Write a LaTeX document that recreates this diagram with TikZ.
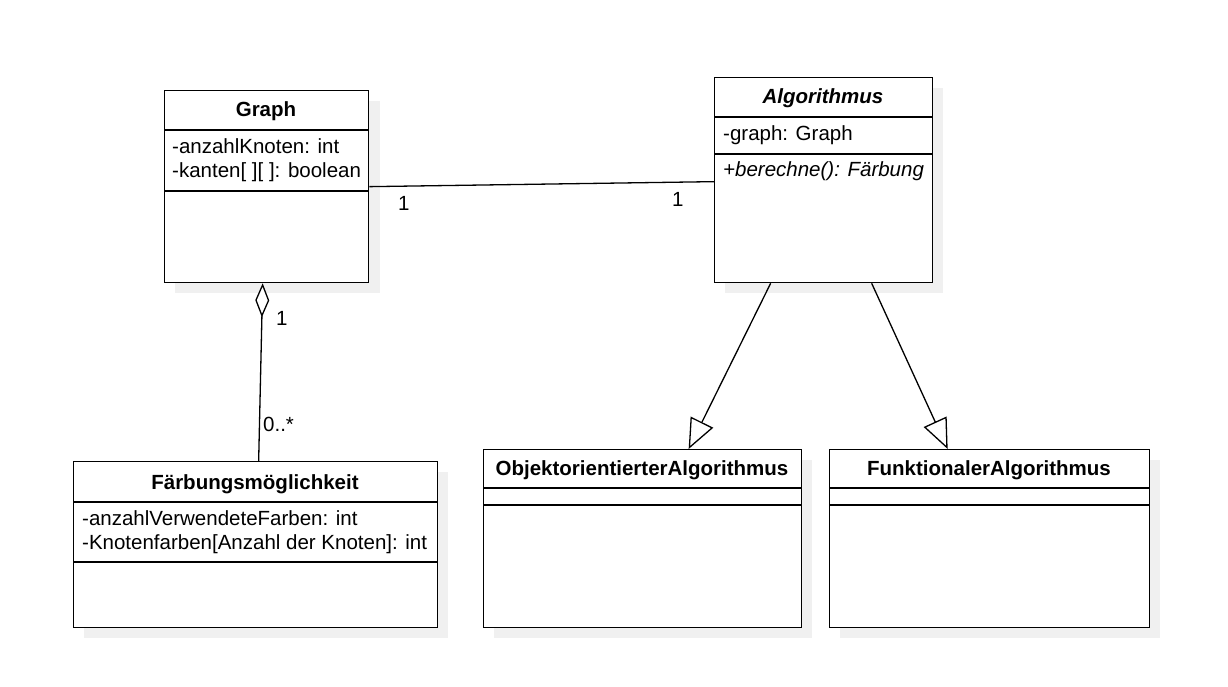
\documentclass[tikz,border=0pt]{standalone}
\usepackage{fontspec}
\setmainfont{Liberation Sans}
\usetikzlibrary{arrows.meta,calc}
\begin{document}
\begin{tikzpicture}[x=1pt,y=-1pt,
  box/.style={draw=black,line width=1.3pt,fill=white,inner sep=0pt,anchor=north west},
  shadowbox/.style={fill=black!6,draw=none},
  sep/.style={draw=black,line width=1.3pt},
  txt/.style={inner sep=0pt,anchor=base west,font=\fontsize{20.5}{24}\selectfont},
  ttl/.style={inner sep=0pt,anchor=base,font=\fontsize{20.5}{24}\selectfont\bfseries},
  conn/.style={draw=black,line width=1.3pt},
  gen/.style={conn,-{Triangle[open,length=30pt,width=25pt,fill=white]}},
  agg/.style={conn,{Diamond[open,length=34pt,width=14pt,fill=white]}-}
]
\useasboundingbox (0,0) rectangle (1228,687);
\fill[white] (0,0) rectangle (1228,687);

% shadows
\fill[black!6] (175,101) rectangle (380,293);
\fill[black!6] (725,88) rectangle (943,293);
\fill[black!6] (84,472) rectangle (448,638);
\fill[black!6] (494,460) rectangle (812,638);
\fill[black!6] (840,460) rectangle (1160,638);

% Graph
\node[box,minimum width=204pt,minimum height=192pt] (graph) at (164,90) {};
\draw[sep] (164,130) -- (368,130);
\draw[sep] (164,191) -- (368,191);
\node[ttl] (graphT) at (266,117) {Graph};
\node[txt] (graphA1) at (172,154) {-anzahlKnoten: int};
\node[txt] (graphA2) at (172,178) {-kanten[ ][ ]: boolean};

% Algorithmus
\node[box,minimum width=218pt,minimum height=205pt] (algo) at (714,77) {};
\draw[sep] (714,117) -- (932,117);
\draw[sep] (714,154) -- (932,154);
\node[ttl,font=\fontsize{20.5}{24}\selectfont\bfseries\itshape] (algoT) at (823,104) {Algorithmus};
\node[txt] (algoA1) at (723,141) {-graph: Graph};
\node[txt,font=\fontsize{20.5}{24}\selectfont\itshape] (algoM1) at (723,177) {+berechne(): Färbung};

% Faerbungsmoeglichkeit
\node[box,minimum width=364pt,minimum height=166pt] (fm) at (73,461) {};
\draw[sep] (73,502) -- (437,502);
\draw[sep] (73,562) -- (437,562);
\node[ttl] (fmT) at (255,489) {Färbungsmöglichkeit};
\node[txt] (fmA1) at (82,525) {-anzahlVerwendeteFarben: int};
\node[txt] (fmA2) at (82,549) {-Knotenfarben[Anzahl der Knoten]: int};

% Objektorientierter
\node[box,minimum width=318pt,minimum height=178pt] (obj) at (483,449) {};
\draw[sep] (483,488) -- (801,488);
\draw[sep] (483,505) -- (801,505);
\node[ttl] (objT) at (642,475) {ObjektorientierterAlgorithmus};

% Funktional
\node[box,minimum width=320pt,minimum height=178pt] (fun) at (829,449) {};
\draw[sep] (829,488) -- (1149,488);
\draw[sep] (829,505) -- (1149,505);
\node[ttl] (funT) at (989,475) {FunktionalerAlgorithmus};

% connectors
\draw[conn] (graph.east) -- ([yshift=-1.5pt]algo.west);
\node[txt] (m1) at (398,211) {1};
\node[txt] (m2) at (672,207) {1};

\draw[agg] ([xshift=-4pt]graph.south) -- ([xshift=3pt]fm.north);
\node[txt] (m3) at (276,325) {1};
\node[txt] (m4) at (263,431) {0..*};

\draw[gen] ([xshift=-53pt]algo.south) -- ([xshift=46pt]obj.north);
\draw[gen] ([xshift=48pt]algo.south) -- ([xshift=-42pt]fun.north);
\end{tikzpicture}
\end{document}
